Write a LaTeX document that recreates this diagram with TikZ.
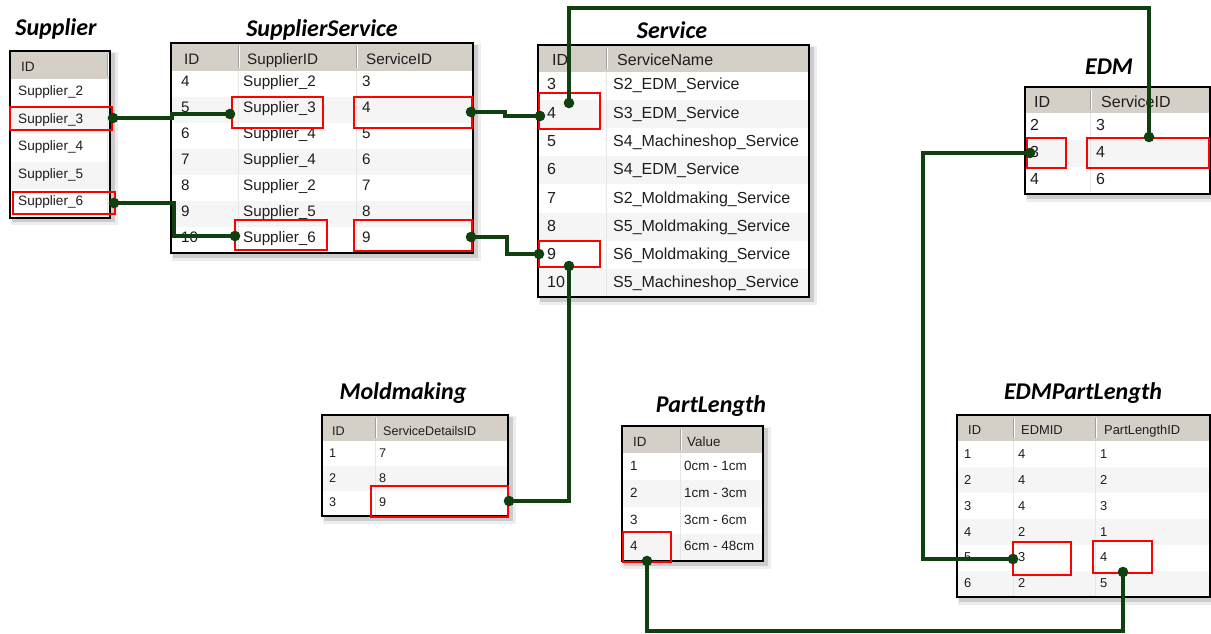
\documentclass[tikz,border=0pt]{standalone}
\usepackage{fontspec}
\setmainfont{Liberation Sans}
\newfontfamily\titlefont{Carlito}
\usetikzlibrary{fit}
\definecolor{connc}{RGB}{16,64,16}
\definecolor{hdr}{RGB}{212,208,200}
\definecolor{rowg}{RGB}{245,245,245}
\definecolor{sepl}{RGB}{230,230,230}
\definecolor{hsepc}{RGB}{160,160,160}
\definecolor{txt}{RGB}{30,30,30}
\definecolor{redb}{RGB}{255,0,0}
\newcommand\tsz[1]{\fontsize{#1}{#1}\selectfont}
\newcommand\dbframe[6]{%
  \pgfmathsetmacro\dbyb{#4+#5*#6}%
  \fill[black,opacity=.07] (#1+1,#2+1) rectangle (#3+8,\dbyb+8);
  \fill[black,opacity=.14] (#1+2,#2+2) rectangle (#3+5,\dbyb+5);
  \fill[white] (#1,#2) rectangle (#3,\dbyb);
  \foreach \i in {1,...,#6}{\ifodd\i\else\fill[rowg] (#1,{#4+#5*(\i-1)}) rectangle (#3,{#4+#5*\i});\fi}
  \fill[hdr] (#1,#2) rectangle (#3,#4);
}
\newcommand\dbsep[4]{%
  \draw[sepl,line width=0.8pt] (#1,#3) -- (#1,#4);
  \draw[hsepc,line width=0.9pt] (#1,#2+3) -- (#1,#3-3);
  \draw[white,line width=0.9pt] (#1+1,#2+3) -- (#1+1,#3-3);
}
\newcommand\dbborder[4]{\draw[line width=2.1pt,black] (#1,#2) rectangle (#3,#4);}
\tikzset{
  cell/.style={anchor=base west, inner sep=0pt, text=txt},
  title/.style={font=\titlefont\bfseries\itshape\tsz{24}, inner sep=0pt},
  redbox/.style={draw=redb, line width=2.7pt, inner sep=0pt},
  conn/.style={draw=connc, line width=3.1pt},
}
\newcommand\condot[1]{\fill[connc] (#1) circle (5.3pt);}
\begin{document}
\begin{tikzpicture}[x=1pt,y=-1pt]
\useasboundingbox (0,0) rectangle (1211,634);

% ---------- titles ----------
\node[title] (t-sup) at (56,29) {Supplier};
\node[title] (t-ss) at (322,30) {SupplierService};
\node[title] (t-srv) at (672,30) {Service};
\node[title] (t-edm) at (1109,67) {EDM};
\node[title] (t-mold) at (403,393) {Moldmaking};
\node[title] (t-pl) at (711,406) {PartLength};
\node[title] (t-epl) at (1083,393) {EDMPartLength};

% ---------- Supplier ----------
\dbframe{10}{51}{110}{79}{27.5}{5}
\dbsep{107}{51}{79}{\dbyb}
\node[cell,font=\tsz{13.6}] (sup-h) at (21,67+4.9) {ID};
\foreach \t [count=\i] in {Supplier\_2,Supplier\_3,Supplier\_4,Supplier\_5,Supplier\_6}{
  \node[cell,font=\tsz{13.6}] (sup-\i) at (18,{91+27.5*(\i-1)+4.9}) {\t};
}
\dbborder{10}{51}{110}{\dbyb+1.5}

% ---------- SupplierService ----------
\dbframe{171}{43}{473}{71}{26}{7}
\dbsep{238}{43}{71}{\dbyb}
\dbsep{356}{43}{71}{\dbyb}
\node[cell,font=\tsz{15.2}] (ss-h1) at (184,59+5.5) {ID};
\node[cell,font=\tsz{15.2}] (ss-h2) at (247,59+5.5) {SupplierID};
\node[cell,font=\tsz{15.2}] (ss-h3) at (366,59+5.5) {ServiceID};
\foreach \a/\b/\c [count=\i] in {4/Supplier\_2/3,5/Supplier\_3/4,6/Supplier\_4/5,7/Supplier\_4/6,8/Supplier\_2/7,9/Supplier\_5/8,10/Supplier\_6/9}{
  \node[cell,font=\tsz{15.2}] (ss-\i-1) at (181,{81+26*(\i-1)+5.5}) {\a};
  \node[cell,font=\tsz{15.2}] (ss-\i-2) at (243,{81+26*(\i-1)+5.5}) {\b};
  \node[cell,font=\tsz{15.2}] (ss-\i-3) at (362,{81+26*(\i-1)+5.5}) {\c};
}
\dbborder{171}{43}{473}{\dbyb}

% ---------- Service ----------
\dbframe{538}{45}{809}{72}{28.1}{8}
\dbsep{606}{45}{72}{\dbyb}
\node[cell,font=\tsz{16}] (srv-h1) at (552,60+5.8) {ID};
\node[cell,font=\tsz{16}] (srv-h2) at (617,60+5.8) {ServiceName};
\foreach \a/\b [count=\i] in {3/S2\_EDM\_Service,4/S3\_EDM\_Service,5/S4\_Machineshop\_Service,6/S4\_EDM\_Service,7/S2\_Moldmaking\_Service,8/S5\_Moldmaking\_Service,9/S6\_Moldmaking\_Service,10/S5\_Machineshop\_Service}{
  \node[cell,font=\tsz{16}] (srv-\i-1) at (547,{84+28.3*(\i-1)+5.8}) {\a};
  \node[cell,font=\tsz{16}] (srv-\i-2) at (613,{84+28.3*(\i-1)+5.8}) {\b};
}
\dbborder{538}{45}{809}{\dbyb}

% ---------- EDM ----------
\dbframe{1025}{87}{1210}{113}{27}{3}
\dbsep{1090}{87}{113}{\dbyb}
\node[cell,font=\tsz{16}] (edm-h1) at (1034,102+5.8) {ID};
\node[cell,font=\tsz{16}] (edm-h2) at (1101,102+5.8) {ServiceID};
\foreach \a/\b [count=\i] in {2/3,3/4,4/6}{
  \node[cell,font=\tsz{16}] (edm-\i-1) at (1030,{125+27*(\i-1)+5.8}) {\a};
  \node[cell,font=\tsz{16}] (edm-\i-2) at (1096,{125+27*(\i-1)+5.8}) {\b};
}
\dbborder{1025}{87}{1210}{\dbyb}

% ---------- Moldmaking ----------
\dbframe{322}{415}{508}{441}{25}{3}
\dbsep{375}{415}{441}{\dbyb}
\node[cell,font=\tsz{12.6}] (mold-h1) at (332,431+4.5) {ID};
\node[cell,font=\tsz{12.6}] (mold-h2) at (383,431+4.5) {ServiceDetailsID};
\foreach \a/\b [count=\i] in {1/7,2/8,3/9}{
  \node[cell,font=\tsz{12.6}] (mold-\i-1) at (329,{453+24.5*(\i-1)+4.5}) {\a};
  \node[cell,font=\tsz{12.6}] (mold-\i-2) at (379,{453+24.5*(\i-1)+4.5}) {\b};
}
\dbborder{322}{415}{508}{\dbyb}

% ---------- PartLength ----------
\dbframe{622}{426}{763}{453}{27}{4}
\dbsep{680}{426}{453}{\dbyb}
\node[cell,font=\tsz{13.4}] (pl-h1) at (633,442+4.8) {ID};
\node[cell,font=\tsz{13.4}] (pl-h2) at (687,442+4.8) {Value};
\foreach \a/\b [count=\i] in {1/0cm - 1cm,2/1cm - 3cm,3/3cm - 6cm,4/6cm - 48cm}{
  \node[cell,font=\tsz{13.4}] (pl-\i-1) at (630,{466+26.7*(\i-1)+4.8}) {\a};
  \node[cell,font=\tsz{13.4}] (pl-\i-2) at (684,{466+26.7*(\i-1)+4.8}) {\b};
}
\dbborder{622}{426}{763}{\dbyb}

% ---------- EDMPartLength ----------
\dbframe{957}{415}{1210}{441}{26}{6}
\dbsep{1013}{415}{441}{\dbyb}
\dbsep{1095}{415}{441}{\dbyb}
\node[cell,font=\tsz{12.9}] (epl-h1) at (968,430+4.6) {ID};
\node[cell,font=\tsz{12.9}] (epl-h2) at (1021,430+4.6) {EDMID};
\node[cell,font=\tsz{12.9}] (epl-h3) at (1104,430+4.6) {PartLengthID};
\foreach \a/\b/\c [count=\i] in {1/4/1,2/4/2,3/4/3,4/2/1,5/3/4,6/2/5}{
  \node[cell,font=\tsz{12.9}] (epl-\i-1) at (964,{454+25.8*(\i-1)+4.6}) {\a};
  \node[cell,font=\tsz{12.9}] (epl-\i-2) at (1018,{454+25.8*(\i-1)+4.6}) {\b};
  \node[cell,font=\tsz{12.9}] (epl-\i-3) at (1100,{454+25.8*(\i-1)+4.6}) {\c};
}
\dbborder{957}{415}{1210}{\dbyb}

% ---------- red highlight boxes ----------
\node[redbox, fit={(10,107)(112,130)}] (r1) {};
\node[redbox, fit={(13,192)(115,214)}] (r2) {};
\node[redbox, fit={(232,97)(323,128)}] (r3) {};
\node[redbox, fit={(354,97)(472,128)}] (r4) {};
\node[redbox, fit={(235,220)(327,250)}] (r5) {};
\node[redbox, fit={(354,220)(472,251)}] (r6) {};
\node[redbox, fit={(539,93)(600,129)}] (r7) {};
\node[redbox, fit={(539,241)(600,267)}] (r8) {};
\node[redbox, fit={(1027,138)(1066,168)}] (r9) {};
\node[redbox, fit={(1087,138)(1209,168)}] (r10) {};
\node[redbox, fit={(371,486)(508,517)}] (r11) {};
\node[redbox, fit={(623,532)(671,562)}] (r12) {};
\node[redbox, fit={(1013,542)(1071,575)}] (r13) {};
\node[redbox, fit={(1093,541)(1152,573)}] (r14) {};

% ---------- connector end points ----------
\coordinate (c1a) at (113,118);  \coordinate (c1b) at (230,114);
\coordinate (c2a) at (114,203);  \coordinate (c2b) at (235,236);
\coordinate (c3a) at (471,112);  \coordinate (c3b) at (540,116);
\coordinate (c4a) at (471,237);  \coordinate (c4b) at (539,254);
\coordinate (c5a) at (569,103);  \coordinate (c5b) at (1149,137);
\coordinate (c6a) at (569,266);  \coordinate (c6b) at (509,501);
\coordinate (c7a) at (1030,153); \coordinate (c7b) at (1013,559);
\coordinate (c8a) at (647,561);  \coordinate (c8b) at (1123,572);

% ---------- connectors ----------
\draw[conn] (c1a) -- ++(59,0) |- (c1b);
\draw[conn] (c2a) -- ++(60,0) |- (c2b);
\draw[conn] (c3a) -- ++(34,0) |- (c3b);
\draw[conn] (c4a) -- ++(36,0) |- (c4b);
\draw[conn] (c5a) -- ++(0,-95) -| (c5b);
\draw[conn] (c6a) |- (c6b);
\draw[conn] (c7a) -- ++(-107,0) |- (c7b);
\draw[conn] (c8a) -- ++(0,70) -| (c8b);

\foreach \p in {c1a,c1b,c2a,c2b,c3a,c3b,c4a,c4b,c5a,c5b,c6a,c6b,c7a,c7b,c8a,c8b}{
  \condot{\p}
}
\end{tikzpicture}
\end{document}
